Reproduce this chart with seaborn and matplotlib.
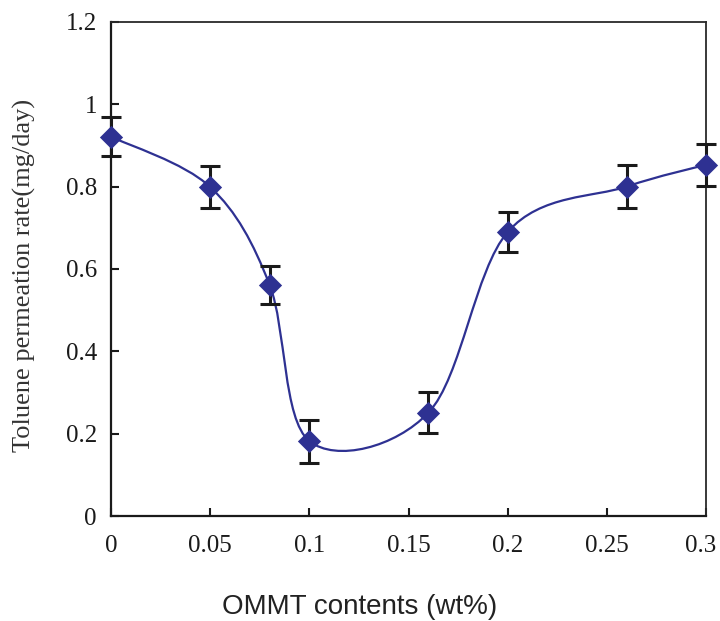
import numpy as np
import pandas as pd
import matplotlib
matplotlib.use("Agg")
import matplotlib.pyplot as plt
import matplotlib.transforms as mtransforms
from matplotlib.path import Path
from matplotlib.patches import PathPatch
import seaborn as sns

# --- data ---
ommt = [0.0, 0.05, 0.08, 0.10, 0.16, 0.20, 0.26, 0.30]
rate = [0.921, 0.799, 0.561, 0.182, 0.251, 0.690, 0.800, 0.853]
err = [0.048, 0.051, 0.047, 0.052, 0.050, 0.049, 0.051, 0.051]
x_ticks = [0, 0.05, 0.1, 0.15, 0.2, 0.25, 0.3]
x_ticklabels = ["0", "0.05", "0.1", "0.15", "0.2", "0.25", "0.3"]
y_ticks = [0, 0.2, 0.4, 0.6, 0.8, 1.0, 1.2]
y_ticklabels = ["0", "0.2", "0.4", "0.6", "0.8", "1", "1.2"]

df = pd.DataFrame({"OMMT": ommt, "rate": rate, "err": err})

navy = "#2E3192"
serif = ["Liberation Serif", "DejaVu Serif"]

sns.set_theme(style="ticks")
plt.rcParams["font.family"] = serif

fig = plt.figure(figsize=(7.2, 6.21), dpi=100)
ax = fig.add_axes([0.154, 0.169, 0.827, 0.796])


# Excel-style smoothed line: cubic Bezier segments with 1/6 tangent rule
def smooth_path(xs, ys):
    pts = np.column_stack([xs, ys])
    n = len(pts)
    verts = [pts[0]]
    codes = [Path.MOVETO]
    for i in range(n - 1):
        p0 = pts[i - 1] if i > 0 else pts[i]
        p1 = pts[i]
        p2 = pts[i + 1]
        p3 = pts[i + 2] if i + 2 < n else pts[i + 1]
        c1 = p1 + (p2 - p0) / 6.0
        c2 = p2 - (p3 - p1) / 6.0
        verts += [c1, c2, p2]
        codes += [Path.CURVE4] * 3
    return Path(verts, codes)


ax.add_patch(PathPatch(smooth_path(df["OMMT"], df["rate"]), facecolor="none",
                       edgecolor=navy, lw=1.6, zorder=2))

ax.errorbar(df["OMMT"], df["rate"], yerr=df["err"], fmt="none", ecolor="#1a1a1a",
            elinewidth=2.2, capsize=7, capthick=2.2, zorder=3, clip_on=False)

sns.scatterplot(data=df, x="OMMT", y="rate", marker="D", s=140, color=navy,
                edgecolor=navy, linewidth=0, zorder=4, ax=ax, clip_on=False)

ax.set_xlim(0, 0.3)
ax.set_ylim(0, 1.2)
ax.set_xticks(x_ticks)
ax.set_xticklabels(x_ticklabels)
ax.set_yticks(y_ticks)
ax.set_yticklabels(y_ticklabels)
ax.tick_params(axis="both", direction="in", length=6, width=1.5, labelsize=18,
               colors="#1a1a1a", top=False, right=False)
ax.tick_params(axis="y", pad=10)
ax.tick_params(axis="x", pad=14)

# the last x label sits a little left of its tick in the reference
last = ax.get_xticklabels()[-1]
last.set_transform(last.get_transform() +
                   mtransforms.ScaledTranslation(-6 / 100, 0, fig.dpi_scale_trans))

for side in ["left", "bottom"]:
    ax.spines[side].set_linewidth(1.6)
    ax.spines[side].set_color("#1a1a1a")
for side in ["top", "right"]:
    ax.spines[side].set_linewidth(1.3)
    ax.spines[side].set_color("#2a2a2a")

ax.set_ylabel("Toluene permeation rate(mg/day)", fontsize=19, color="#333333")
ax.yaxis.set_label_coords(-0.126, 0.487)
ax.set_xlabel("OMMT contents (wt%)", fontsize=20, color="#222222",
              family=["Liberation Sans", "DejaVu Sans"])
ax.xaxis.set_label_coords(0.417, -0.158)

fig.savefig("out.png", dpi=100, facecolor="white")
